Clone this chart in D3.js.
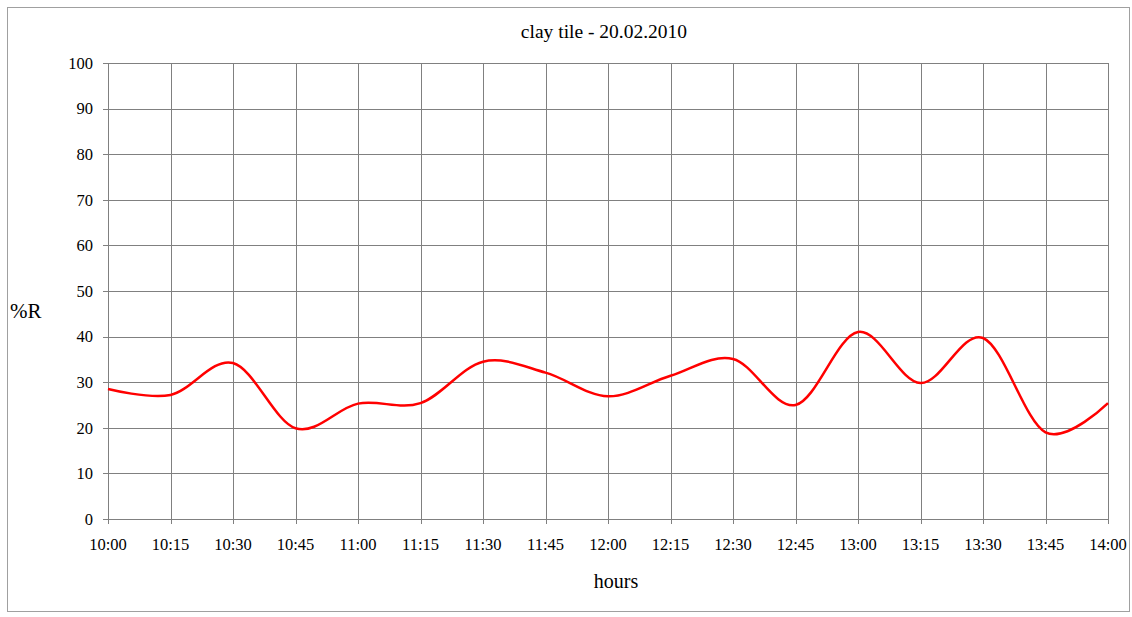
<!DOCTYPE html>
<html>
<head>
<meta charset="utf-8">
<script src="https://cdn.jsdelivr.net/npm/d3@7"></script>
<style>
  body { margin: 0; background: #fff; }
  text { font-family: "Liberation Serif", "DejaVu Serif", serif; fill: #000; }
</style>
</head>
<body>
<div id="chart"></div>
<script>
// Data
var times = ['10:00', '10:15', '10:30', '10:45', '11:00', '11:15', '11:30', '11:45', '12:00',
  '12:15', '12:30', '12:45', '13:00', '13:15', '13:30', '13:45', '14:00']
var reflectance = [28.5, 27.2, 34.2, 19.9, 25.3, 25.4, 34.5, 32.1, 26.9,
  31.4, 35.1, 25.0, 41.0, 29.8, 39.7, 19.0, 25.4]
var yTicks = [0, 10, 20, 30, 40, 50, 60, 70, 80, 90, 100]
var title = 'clay tile - 20.02.2010'

// Dimensions
var width = 1132
var height = 617
var margin = { top: 63, right: 24, bottom: 98, left: 108 }
var chartWidth = width - margin.left - margin.right
var chartHeight = height - margin.top - margin.bottom

var svg = d3.select('#chart').append('svg')
  .attr('width', width)
  .attr('height', height)

// Outer frame
svg.append('rect')
  .attr('x', 7.5)
  .attr('y', 7.5)
  .attr('width', 1122)
  .attr('height', 604)
  .attr('fill', '#fff')
  .attr('stroke', '#a0a0a0')

var g = svg.append('g')
  .attr('transform', 'translate(' + margin.left + ',' + margin.top + ')')

// Scales
var x = d3.scalePoint().domain(times).range([0, chartWidth])
var y = d3.scaleLinear().domain([0, 100]).range([chartHeight, 0])

// Grid
g.append('g').selectAll('line.h')
  .data(yTicks)
  .enter().append('line')
  .attr('x1', -5)
  .attr('x2', chartWidth)
  .attr('y1', function (d) { return Math.round(y(d)) + 0.5 })
  .attr('y2', function (d) { return Math.round(y(d)) + 0.5 })
  .attr('stroke', '#808080')

g.append('g').selectAll('line.v')
  .data(times)
  .enter().append('line')
  .attr('x1', function (d) { return Math.round(x(d)) + 0.5 })
  .attr('x2', function (d) { return Math.round(x(d)) + 0.5 })
  .attr('y1', 0)
  .attr('y2', chartHeight + 5)
  .attr('stroke', '#808080')

// Tick labels
g.append('g').selectAll('text')
  .data(yTicks)
  .enter().append('text')
  .attr('x', -15)
  .attr('y', function (d) { return y(d) })
  .attr('dy', '0.35em')
  .attr('text-anchor', 'end')
  .style('font-size', '16.5px')
  .text(function (d) { return d })

g.append('g').selectAll('text')
  .data(times)
  .enter().append('text')
  .attr('x', function (d) { return x(d) })
  .attr('y', chartHeight + 31)
  .attr('text-anchor', 'middle')
  .style('font-size', '16.5px')
  .text(function (d) { return d })

// Line
var line = d3.line()
  .x(function (d, i) { return x(times[i]) })
  .y(function (d) { return y(d) })
  .curve(d3.curveCatmullRom.alpha(0))

g.append('path')
  .datum(reflectance)
  .attr('d', line)
  .attr('fill', 'none')
  .attr('stroke', '#ff0000')
  .attr('stroke-width', 2.5)

// Titles
svg.append('text')
  .attr('x', 604)
  .attr('y', 38)
  .attr('text-anchor', 'middle')
  .style('font-size', '19.5px')
  .text(title)

svg.append('text')
  .attr('x', 10)
  .attr('y', 318)
  .style('font-size', '21px')
  .text('%R')

svg.append('text')
  .attr('x', 616)
  .attr('y', 588)
  .attr('text-anchor', 'middle')
  .style('font-size', '20px')
  .text('hours')
</script>
</body>
</html>
